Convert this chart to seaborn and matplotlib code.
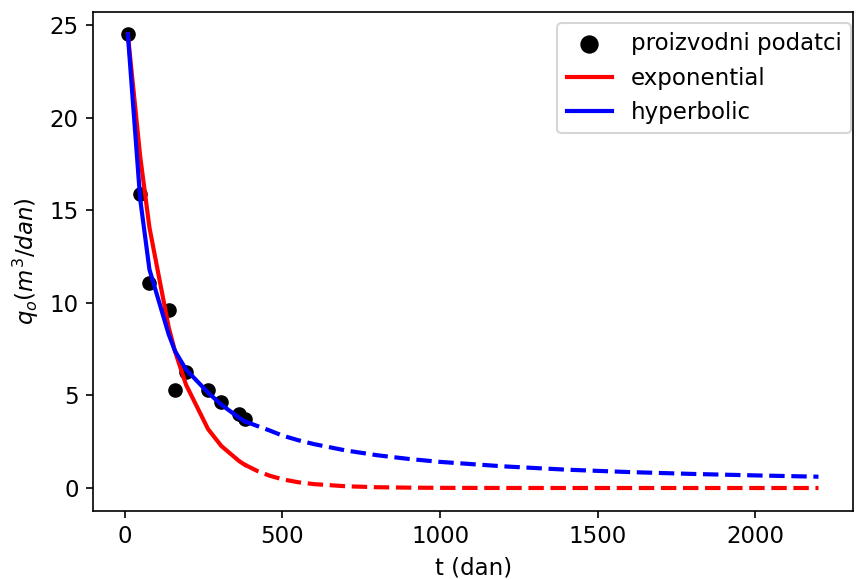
import numpy as np
import matplotlib
matplotlib.use("Agg")
import matplotlib.pyplot as plt
import seaborn as sns

plt.rcParams["font.size"] = 11

# Production data (days, m3/day)
t_data = [9.5, 48.7, 78, 139, 159, 194, 264, 306, 362, 380]
q_data = [24.5, 15.9, 11.05, 9.6, 5.3, 6.25, 5.3, 4.65, 4.0, 3.7]

# Fitted decline curves over the production period
q_exp_fit = [24.5, 17.9, 14.07, 8.68, 7.39, 5.58, 3.18, 2.27, 1.46, 1.26]
q_hyp_fit = [24.5, 15.6, 11.8, 8.3, 7.4, 6.4, 5.15, 4.5, 3.8, 3.6]

# Forecast beyond the last production date
t_fore = [380, 420, 460, 500, 550, 600, 700, 800, 900, 1000, 1200, 1400,
          1600, 1800, 2000, 2200]
q_exp_fore = [1.26, 0.92, 0.66, 0.47, 0.31, 0.21, 0.095, 0.042, 0.02, 0.0085,
              0.002, 0.0004, 0.0001, 0.0, 0.0, 0.0]
q_hyp_fore = [3.6, 3.35, 3.1, 2.83, 2.58, 2.37, 2.03, 1.77, 1.57, 1.41, 1.17,
              0.99, 0.86, 0.76, 0.68, 0.61]

fig, ax = plt.subplots(figsize=(856 / 150, 580 / 150), dpi=150)
fig.subplots_adjust(left=0.109, right=0.9965, top=0.98, bottom=0.1195)

sns.scatterplot(x=t_data, y=q_data, color="black", edgecolor="black",
                linewidth=1, s=36, label="proizvodni podatci", ax=ax, zorder=1)
sns.lineplot(x=t_data, y=q_exp_fit, color="red", linewidth=2,
             label="exponential", ax=ax)
sns.lineplot(x=t_data, y=q_hyp_fit, color="blue", linewidth=2,
             label="hyperbolic", ax=ax)
sns.lineplot(x=t_fore, y=q_exp_fore, color="red", linewidth=2,
             linestyle="--", legend=False, ax=ax)
sns.lineplot(x=t_fore, y=q_hyp_fore, color="blue", linewidth=2,
             linestyle="--", legend=False, ax=ax)

ax.set_xlabel("t (dan)")
ax.set_ylabel(r"$q_o(m^3/dan)$")
ax.set_xticks([0, 500, 1000, 1500, 2000])
ax.set_yticks([0, 5, 10, 15, 20, 25])
ax.legend(loc="upper right", bbox_to_anchor=(1.012, 1.0), markerscale=1.3)

fig.savefig("out.png", dpi=150)
